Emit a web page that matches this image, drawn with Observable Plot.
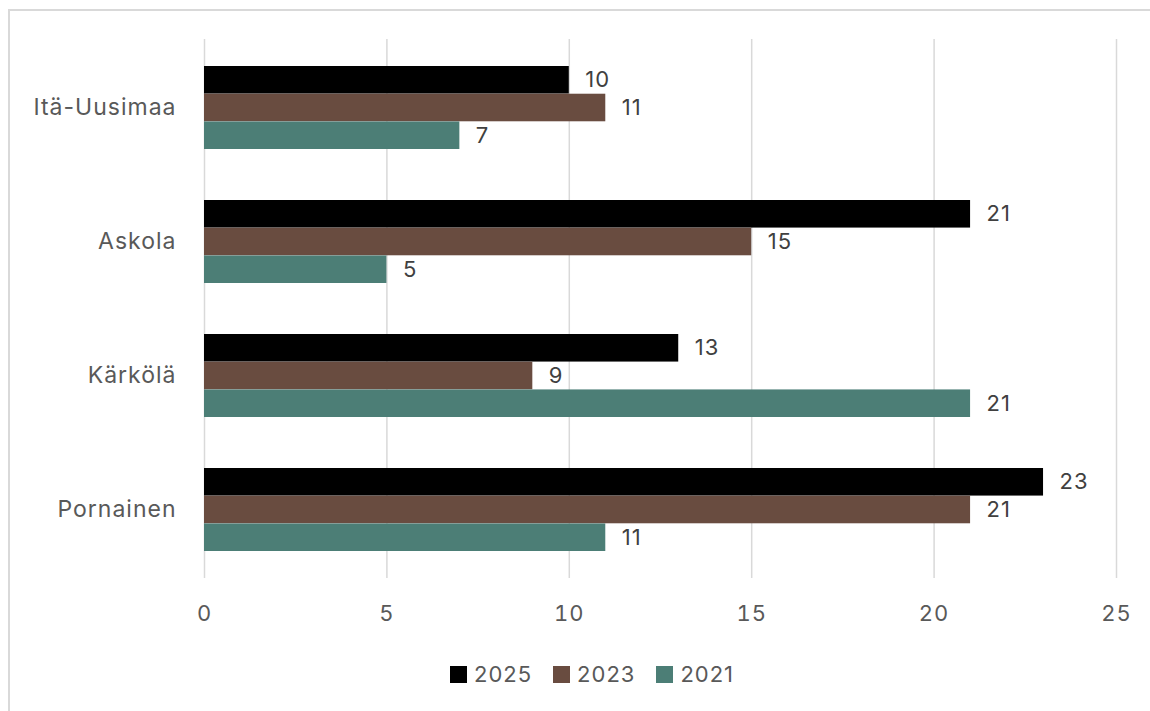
<!DOCTYPE html>
<html>
<head>
<meta charset="utf-8">
<script src="https://cdn.jsdelivr.net/npm/d3@7"></script>
<script src="https://cdn.jsdelivr.net/npm/@observablehq/plot@0.6"></script>
<style>
  body { margin: 0; background: #fff; font-family: Inter, "Open Sans", sans-serif; }
  #frame { position: relative; width: 1150px; height: 711px; overflow: hidden; background: #fff; }
  #border { position: absolute; left: 8px; top: 9px; width: 1200px; height: 800px; border: 2px solid #d9d9d9; box-sizing: border-box; }
  #chart { position: absolute; left: 0; top: 0; }
  #chart text { letter-spacing: 1px; }
  #legend { position: absolute; left: 450px; top: 660px; height: 28px; display: flex; align-items: center; font-size: 22px; color: #595959; letter-spacing: 1px; }
  .item { display: flex; align-items: center; margin-right: 21px; }
  .sw { width: 17px; height: 17px; margin-right: 7px; }
</style>
</head>
<body>
<div id="frame">
  <div id="border"></div>
  <div id="chart"></div>
  <div id="legend"></div>
</div>
<script>
const categories = ["Itä-Uusimaa", "Askola", "Kärkölä", "Pornainen"];
const years = ["2025", "2023", "2021"];
const v2025 = [10, 21, 13, 23];
const v2023 = [11, 15, 9, 21];
const v2021 = [7, 5, 21, 11];
const xTicks = [0, 5, 10, 15, 20, 25];
const colors = ["#000000", "#694c40", "#4c7e76"];

const series = [v2025, v2023, v2021];
const W = 1150, H = 650, mT = 39, mB = 72, mL = 204, mR = 34;
const padIn = 0.383, padOut = padIn / 2;
const step = (H - mT - mB) / (categories.length - padIn + 2 * padOut);
const bw = step * (1 - padIn);
const sub = bw / years.length;

const marks = [
  Plot.gridX(xTicks, {stroke: "#d9d9d9", strokeOpacity: 1, strokeWidth: 1.5}),
  Plot.axisX(xTicks, {tickSize: 0, tickPadding: 27, fontSize: 22, fill: "#595959", fontFamily: "Inter", label: null}),
  Plot.axisY({tickSize: 0, tickPadding: 28, fontSize: 23, fill: "#595959", fontFamily: "Inter", label: null})
];
series.forEach((vals, i) => {
  const data = categories.map((c, j) => ({cat: c, value: vals[j], year: years[i]}));
  marks.push(Plot.barX(data, {
    x: "value", y: "cat", fill: colors[i],
    insetTop: i * sub, insetBottom: (years.length - 1 - i) * sub
  }));
  marks.push(Plot.text(data, {
    x: "value", y: "cat", text: d => String(d.value),
    dx: 16, dy: (i - 1) * sub, textAnchor: "start",
    fontSize: 22, fill: "#404040", fontFamily: "Inter"
  }));
});

const chart = Plot.plot({
  width: W, height: H,
  marginTop: mT, marginBottom: mB, marginLeft: mL, marginRight: mR,
  style: {background: "transparent", fontFamily: "Inter"},
  x: {domain: [0, 25], axis: null, label: null},
  y: {domain: categories, paddingInner: padIn, paddingOuter: padOut, label: null, axis: null},
  marks
});
document.getElementById("chart").appendChild(chart);

const legend = document.getElementById("legend");
years.forEach((y, i) => {
  const it = document.createElement("div");
  it.className = "item";
  const sw = document.createElement("div");
  sw.className = "sw";
  sw.style.background = colors[i];
  const t = document.createElement("span");
  t.textContent = y;
  it.appendChild(sw); it.appendChild(t);
  legend.appendChild(it);
});
</script>
</body>
</html>
